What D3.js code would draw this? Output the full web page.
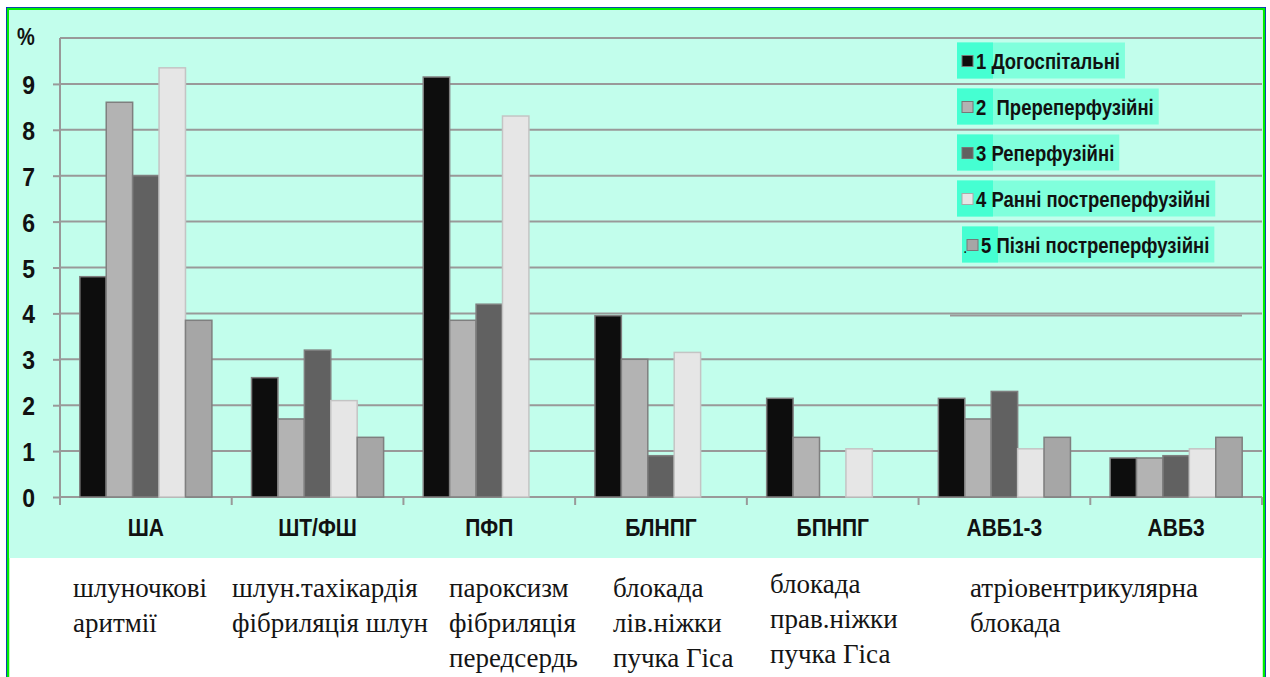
<!DOCTYPE html>
<html>
<head>
<meta charset="utf-8">
<script src="https://cdn.jsdelivr.net/npm/d3@7"></script>
<style>
  body { margin: 0; background: #fff; }
  svg { display: block; }
</style>
</head>
<body>
<svg id="chart" width="1270" height="677"></svg>
<script>
// categories (x axis) and the five series of the chart
var categories = ["ША", "ШТ/ФШ", "ПФП", "БЛНПГ", "БПНПГ", "АВБ1-3", "АВБ3"];
var seriesNames = ["1 Догоспітальні", "2  Пререперфузійні", "3 Реперфузійні", "4 Ранні постреперфузійні", "5 Пізні постреперфузійні"];
var s1 = [4.8, 2.6, 9.15, 3.95, 2.15, 2.15, 0.85];
var s2 = [8.6, 1.7, 3.85, 3.0, 1.3, 1.7, 0.85];
var s3 = [7.0, 3.2, 4.2, 0.9, 0, 2.3, 0.9];
var s4 = [9.35, 2.1, 8.3, 3.15, 1.05, 1.05, 1.05];
var s5 = [3.85, 1.3, 0, 0, 0, 1.3, 1.3];
var yTicks = [0, 1, 2, 3, 4, 5, 6, 7, 8, 9];
var seriesColors = ["#0d0d0d", "#b3b3b3", "#616161", "#e6e6e6", "#a6a6a6"];
// explanation lines printed under the chart
var notes = [
    ["шлуночкові", "аритмії"],
    ["шлун.тахікардія", "фібриляція шлун"],
    ["пароксизм", "фібриляція", "передсердь"],
    ["блокада", "лів.ніжки", "пучка Гіса"],
    ["блокада", "прав.ніжки", "пучка Гіса"],
    ["атріовентрикулярна", "блокада"]
];

var allSeries = [s1, s2, s3, s4, s5];
var svg = d3.select("#chart");
var sans = "'Liberation Sans', Arial, sans-serif";

// frame + background
svg.append("rect").attr("x", 6.5).attr("y", 7.5).attr("width", 1259).attr("height", 720)
    .attr("fill", "#fff").attr("stroke", "#1010e0").attr("stroke-width", 1);
svg.append("rect").attr("x", 8).attr("y", 9).attr("width", 1256).attr("height", 720)
    .attr("fill", "none").attr("stroke", "#00ee00").attr("stroke-width", 2.5);
svg.append("rect").attr("x", 9).attr("y", 10).attr("width", 1253.5).attr("height", 548)
    .attr("fill", "#c2feec");

// scales
var x0 = d3.scaleBand().domain(categories).range([60, 1262]).padding(0);
var x1 = d3.scaleBand().domain(d3.range(5)).range([0, x0.bandwidth()])
    .paddingInner(0).paddingOuter(0.75);
var y = d3.scaleLinear().domain([0, 10]).range([497, 38]);

// gridlines
svg.append("g").selectAll("line").data(d3.range(1, 11)).join("line")
    .attr("x1", 60).attr("x2", 1262)
    .attr("y1", function(d) { return y(d); }).attr("y2", function(d) { return y(d); })
    .attr("stroke", "#999").attr("stroke-width", 2);
// the odd second line under the legend
svg.append("line").attr("x1", 950).attr("x2", 1242)
    .attr("y1", y(4) + 2).attr("y2", y(4) + 2)
    .attr("stroke", "#999").attr("stroke-width", 2);

// y axis
var yAxis = svg.append("g").attr("transform", "translate(60,0)")
    .call(d3.axisLeft(y).tickValues(yTicks).tickSize(7).tickPadding(18).tickFormat(d3.format("d")));
yAxis.select(".domain").attr("stroke", "#999").attr("stroke-width", 2).attr("d", "M0," + y(10) + "V" + y(0));
yAxis.selectAll(".tick line").attr("stroke", "#999").attr("stroke-width", 2);
yAxis.selectAll(".tick text").attr("fill", "#111")
    .style("font", "bold 23px " + sans).attr("dy", "0.36em")
    .attr("transform", "scale(1,1.15)");

svg.append("text").attr("transform", "translate(17,45) scale(1,1.15)").text("%")
    .style("font", "bold 20px " + sans).attr("fill", "#111");

// x axis
var xAxis = svg.append("g").attr("transform", "translate(0,497)")
    .call(d3.axisBottom(x0).tickSize(0).tickPadding(0));
xAxis.select(".domain").attr("stroke", "#999").attr("stroke-width", 2).attr("d", "M60,0H1262");
xAxis.selectAll(".tick text").attr("y", 0).attr("dy", 0).attr("fill", "#111")
    .attr("transform", "translate(0,39) scale(1,1.15)")
    .style("font", "bold 21px " + sans);
// tick marks between categories
svg.append("g").selectAll("line").data(d3.range(categories.length + 1)).join("line")
    .attr("x1", function(i) { return 60 + i * x0.step(); })
    .attr("x2", function(i) { return 60 + i * x0.step(); })
    .attr("y1", 497).attr("y2", 505)
    .attr("stroke", "#999").attr("stroke-width", 2);

// bars
var groups = svg.append("g").selectAll("g").data(categories).join("g")
    .attr("transform", function(c) { return "translate(" + x0(c) + ",0)"; });
groups.selectAll("rect")
    .data(function(c, ci) {
        return allSeries.map(function(s, si) { return {si: si, v: s[ci]}; })
            .filter(function(d) { return d.v > 0; });
    })
    .join("rect")
    .attr("x", function(d) { return x1(d.si); })
    .attr("width", x1.bandwidth())
    .attr("y", function(d) { return y(d.v); })
    .attr("height", function(d) { return y(0) - y(d.v); })
    .attr("fill", function(d) { return seriesColors[d.si]; })
    .attr("stroke", function(d) { return d.si == 3 ? "#c4c4c4" : "#7f7f7f"; })
    .attr("stroke-width", 1.5);

// legend
var legend = svg.append("g");
seriesNames.forEach(function(name, i) {
    var cy = 60.5 + i * 46;
    var left = i == 4 ? 962 : 957;
    var g = legend.append("g");
    var box = g.append("rect").attr("x", left).attr("y", cy - 18).attr("height", 36).attr("fill", "#80ffdc");
    g.append("rect").attr("x", left).attr("y", cy - 18).attr("width", 36).attr("height", 36).attr("fill", "#45ffd2");
    g.append("rect").attr("x", left + 5).attr("y", cy - 5).attr("width", 11).attr("height", 11)
        .attr("fill", seriesColors[i]).attr("stroke", i == 3 ? "#aaa" : "#777").attr("stroke-width", 1);
    var t = g.append("text").attr("transform", "translate(" + (left + 19) + "," + (cy + 8) + ") scale(1,1.2)")
        .text(name)
        .attr("xml:space", "preserve").style("white-space", "pre")
        .style("font", "bold 18.5px " + sans).attr("fill", "#111");
    var w = t.node().getComputedTextLength();
    box.attr("width", w + 24);
    if (i == 4) {
        g.append("text").attr("x", left + 1).attr("y", cy + 8).text(".")
            .style("font", "16px " + sans).attr("fill", "#111");
    }
});

// notes under the chart
var noteX = [73, 232, 449, 613, 770, 970];
var noteY = [597, 597, 597, 597, 593, 597];
svg.append("g").selectAll("text").data(notes).join("text")
    .attr("x", function(d, i) { return noteX[i]; })
    .attr("y", function(d, i) { return noteY[i]; })
    .style("font", "27px 'Liberation Serif', 'Times New Roman', serif").attr("fill", "#141414")
    .selectAll("tspan").data(function(d) { return d; }).join("tspan")
    .attr("x", function() { return this.parentNode.getAttribute("x"); })
    .attr("dy", function(d, j) { return j == 0 ? 0 : 35; })
    .text(function(d) { return d; });
</script>
</body>
</html>
